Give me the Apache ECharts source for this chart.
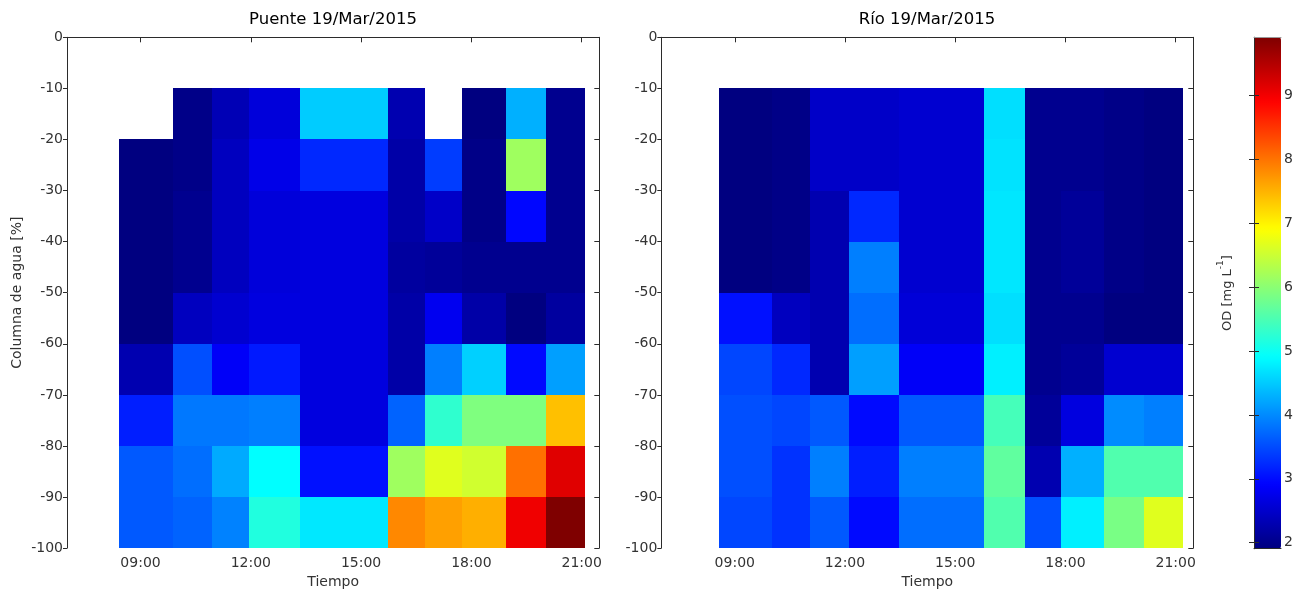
<!DOCTYPE html>
<html>
<head>
<meta charset="utf-8">
<script src="https://cdn.jsdelivr.net/npm/echarts@6/dist/echarts.min.js"></script>
<style>
  html, body { margin: 0; padding: 0; background: #ffffff; }
  #chart { width: 1306px; height: 594px; }
</style>
</head>
<body>
<div id="chart"></div>
<script>
// Depth layer edges (% of water column), top to bottom
const depthEdges = [-10, -20, -30, -40, -50, -60, -70, -80, -90, -100];

// Sampling times (decimal hours) used as column edges
const puenteTimes = [8.42, 9.87, 10.94, 11.94, 13.33, 15.72, 16.74, 17.75, 18.95, 20.02, 21.09];
const rioTimes    = [8.58, 10.00, 11.06, 12.11, 13.46, 15.78, 16.91, 17.89, 19.05, 20.13, 21.20];

// Dissolved oxygen (mg/L): one row per depth layer, one value per sampling interval
const puenteOD = [
  [null, 1.98, 2.33, 2.62, 4.51, 2.29, null, 1.91, 4.29, 2.03],
  [1.91, 1.98, 2.41, 2.73, 3.22, 2.22, 3.38, 1.97, 6.16, 2.03],
  [1.91, 2.03, 2.41, 2.62, 2.66, 2.22, 2.48, 1.97, 2.95, 2.03],
  [1.91, 2.03, 2.41, 2.62, 2.66, 2.16, 2.11, 2.03, 2.03, 2.03],
  [1.91, 2.41, 2.54, 2.66, 2.66, 2.22, 2.79, 2.22, 1.91, 2.16],
  [2.29, 3.53, 2.85, 3.10, 2.66, 2.22, 3.91, 4.54, 2.98, 4.16],
  [3.14, 3.85, 3.85, 3.91, 2.66, 3.69, 5.28, 5.91, 5.91, 7.40],
  [3.61, 3.77, 4.24, 4.91, 3.03, 6.16, 6.67, 6.54, 8.03, 9.15],
  [3.61, 3.69, 3.93, 5.16, 4.73, 7.84, 7.65, 7.53, 9.03, 9.91]
];
const rioOD = [
  [1.91, 1.97, 2.48, 2.48, 2.54, 4.66, 2.03, 2.03, 1.97, 1.91],
  [1.91, 1.97, 2.48, 2.48, 2.54, 4.69, 2.03, 2.03, 1.97, 1.91],
  [1.91, 1.97, 2.29, 3.22, 2.54, 4.72, 2.03, 2.11, 1.97, 1.91],
  [1.91, 1.97, 2.29, 3.91, 2.54, 4.72, 2.03, 2.11, 1.97, 1.91],
  [3.03, 2.41, 2.29, 3.77, 2.60, 4.66, 2.03, 2.03, 1.91, 1.91],
  [3.46, 3.22, 2.29, 4.16, 2.85, 4.79, 2.03, 2.11, 2.54, 2.54],
  [3.53, 3.46, 3.61, 2.98, 3.61, 5.45, 2.11, 2.66, 4.01, 3.91],
  [3.53, 3.30, 3.91, 3.14, 3.91, 5.66, 2.29, 4.29, 5.54, 5.54],
  [3.46, 3.30, 3.61, 2.98, 3.77, 5.54, 3.53, 4.79, 5.86, 6.67]
];

// Axis ticks
const timeTicks = [9, 12, 15, 18, 21];
const odTicks = [2, 3, 4, 5, 6, 7, 8, 9];
const timeRange = [7, 21.48];
const odRange = [1.906, 9.91];

// Jet colour map stops
const jet = ['#00007f', '#0000ff', '#007fff', '#00ffff', '#7fff7f', '#ffff00', '#ff7f00', '#ff0000', '#7f0000'];

const FONT = 'DejaVu Sans';
const INK = '#2b2b2b';
const TXT = '#333333';

function buildCells(times, grid) {
  const cells = [];
  for (let r = 0; r < grid.length; r++) {
    for (let c = 0; c < grid[r].length; c++) {
      const v = grid[r][c];
      if (v === null) continue;
      cells.push([times[c], times[c + 1], depthEdges[r], depthEdges[r + 1], v]);
    }
  }
  return cells;
}

function renderCell(params, api) {
  const p0 = api.coord([api.value(0), api.value(2)]);
  const p1 = api.coord([api.value(1), api.value(3)]);
  const x0 = Math.round(p0[0]), x1 = Math.round(p1[0]);
  const y0 = Math.round(p0[1]), y1 = Math.round(p1[1]);
  return {
    type: 'rect',
    shape: { x: x0, y: y0, width: x1 - x0, height: y1 - y0 },
    style: { fill: api.visual('color') }
  };
}

const hh = v => (v < 10 ? '0' : '') + v + ':00';

function timeAxisBottom(gridIndex, withName) {
  return {
    type: 'value', gridIndex, position: 'bottom', min: timeRange[0], max: timeRange[1], z: 5,
    axisLine: { show: true, lineStyle: { color: INK, width: 1 } },
    axisTick: { show: false },
    splitLine: { show: false },
    axisLabel: { customValues: timeTicks, formatter: hh, margin: 8, color: TXT, fontFamily: FONT, fontSize: 14 },
    name: withName ? 'Tiempo' : '', nameLocation: 'middle', nameGap: 25,
    nameTextStyle: { color: TXT, fontFamily: FONT, fontSize: 14 }
  };
}
function timeAxisTop(gridIndex) {
  return {
    type: 'value', gridIndex, position: 'top', min: timeRange[0], max: timeRange[1], z: 5,
    axisLine: { show: true, lineStyle: { color: INK, width: 1 } },
    axisTick: { show: true, inside: true, length: 5, customValues: timeTicks, lineStyle: { color: INK } },
    axisLabel: { show: false },
    splitLine: { show: false }
  };
}
function depthAxisLeft(gridIndex, withName) {
  return {
    type: 'value', gridIndex, position: 'left', min: -100, max: 0, interval: 10, z: 5,
    axisLine: { show: true, lineStyle: { color: INK, width: 1 } },
    axisTick: { show: true, inside: false, length: 4, lineStyle: { color: INK } },
    splitLine: { show: false },
    axisLabel: { margin: 4, color: TXT, fontFamily: FONT, fontSize: 14 },
    name: withName ? 'Columna de agua [%]' : '', nameLocation: 'middle', nameGap: 43,
    nameTextStyle: { color: TXT, fontFamily: FONT, fontSize: 14 }
  };
}
function depthAxisRight(gridIndex) {
  return {
    type: 'value', gridIndex, position: 'right', min: -100, max: 0, interval: 10, z: 5,
    axisLine: { show: true, lineStyle: { color: INK, width: 1 } },
    axisTick: { show: true, inside: true, length: 5, lineStyle: { color: INK } },
    axisLabel: { show: false },
    splitLine: { show: false }
  };
}

const chart = echarts.init(document.getElementById('chart'), null, { renderer: 'canvas' });

chart.setOption({
  animation: false,
  backgroundColor: '#ffffff',
  title: [
    { text: 'Puente 19/Mar/2015', left: 333, top: 20, textAlign: 'center', textVerticalAlign: 'middle', padding: 0,
      textStyle: { fontFamily: FONT, fontSize: 16.5, fontWeight: 'normal', color: '#000' } },
    { text: 'Río 19/Mar/2015', left: 927, top: 20, textAlign: 'center', textVerticalAlign: 'middle', padding: 0,
      textStyle: { fontFamily: FONT, fontSize: 16.5, fontWeight: 'normal', color: '#000' } }
  ],
  grid: [
    { left: 67, top: 37.3, width: 532.3, height: 513.4 },
    { left: 661.3, top: 37.3, width: 532, height: 513.4 },
    { left: 1254, top: 37.3, width: 27, height: 511.4, z: 6 }
  ],
  xAxis: [
    timeAxisBottom(0, true),
    timeAxisTop(0),
    timeAxisBottom(1, true),
    timeAxisTop(1),
    { type: 'value', gridIndex: 2, position: 'bottom', min: 0, max: 1, z: 6,
      axisLine: { show: true, lineStyle: { color: INK } }, axisTick: { show: false }, axisLabel: { show: false }, splitLine: { show: false } },
    { type: 'value', gridIndex: 2, position: 'top', min: 0, max: 1, z: 6,
      axisLine: { show: true, lineStyle: { color: '#9a9a9a' } }, axisTick: { show: false }, axisLabel: { show: false }, splitLine: { show: false } }
  ],
  yAxis: [
    depthAxisLeft(0, true),
    depthAxisRight(0),
    depthAxisLeft(1, false),
    depthAxisRight(1),
    { type: 'value', gridIndex: 2, position: 'right', min: odRange[0], max: odRange[1], z: 6,
      axisLine: { show: true, lineStyle: { color: INK } },
      axisTick: { show: true, inside: true, length: 5, customValues: odTicks, lineStyle: { color: INK } },
      axisLabel: { customValues: odTicks, margin: 3, color: TXT, fontFamily: FONT, fontSize: 14 },
      splitLine: { show: false } },
    { type: 'value', gridIndex: 2, position: 'left', min: odRange[0], max: odRange[1], z: 6,
      axisLine: { show: true, lineStyle: { color: INK } },
      axisTick: { show: true, inside: true, length: 5, customValues: odTicks, lineStyle: { color: INK } },
      axisLabel: { show: false },
      splitLine: { show: false },
      name: '{a|OD [mg L}{s|-1}{a|]}', nameLocation: 'middle', nameGap: 20,
      nameTextStyle: {
        color: TXT, fontFamily: FONT, fontSize: 13,
        rich: {
          a: { color: TXT, fontFamily: FONT, fontSize: 13, lineHeight: 18, verticalAlign: 'bottom' },
          s: { color: TXT, fontFamily: FONT, fontSize: 9, lineHeight: 18, verticalAlign: 'top' }
        }
      } }
  ],
  visualMap: {
    type: 'continuous', min: odRange[0], max: odRange[1], dimension: 4, seriesIndex: [0, 1],
    calculable: false, orient: 'vertical', left: 1254, top: 37.3,
    itemWidth: 27, itemHeight: 511.4, padding: 0, text: null, hoverLink: false,
    inRange: { color: jet }
  },
  series: [
    { type: 'custom', name: 'Puente', xAxisIndex: 0, yAxisIndex: 0, renderItem: renderCell,
      encode: { x: [0, 1], y: [2, 3] }, data: buildCells(puenteTimes, puenteOD), silent: true },
    { type: 'custom', name: 'Río', xAxisIndex: 2, yAxisIndex: 2, renderItem: renderCell,
      encode: { x: [0, 1], y: [2, 3] }, data: buildCells(rioTimes, rioOD), silent: true }
  ]
});
</script>
</body>
</html>
